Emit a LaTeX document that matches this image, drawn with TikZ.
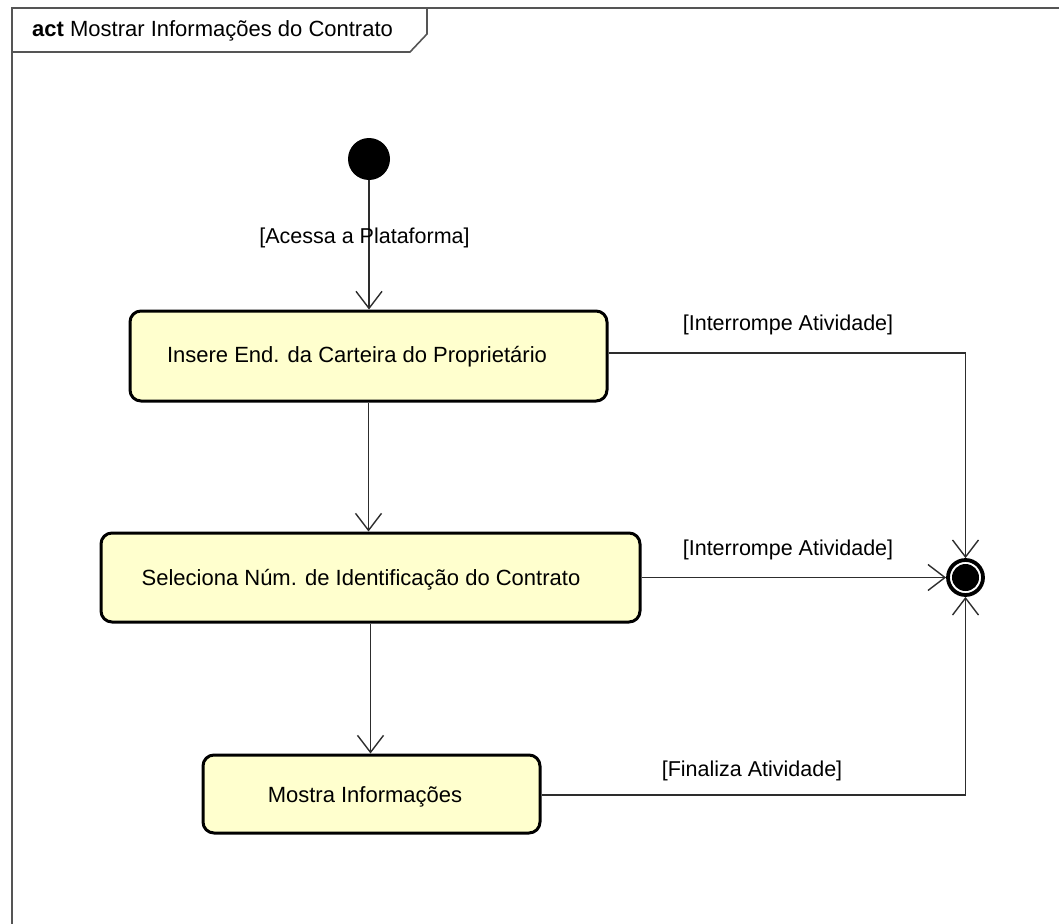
\documentclass[tikz,border=0pt]{standalone}
\usepackage{fontspec}
\setmainfont{Liberation Sans}
\usetikzlibrary{arrows.meta}
\definecolor{actfill}{RGB}{255,255,206}
\definecolor{umlline}{RGB}{45,45,45}
\definecolor{framegray}{RGB}{85,85,85}
\tikzset{
  umlfont/.style={font=\fontsize{22}{26}\selectfont},
  actbox/.style={draw=black,fill=actfill,line width=3pt,rounded corners=11pt,inner sep=0pt},
  acttext/.style={umlfont,inner sep=0pt},
  guard/.style={font=\fontsize{21.5}{25}\selectfont,inner sep=0pt},
  flow/.style={draw=umlline,line width=1.4pt,
    -{Straight Barb[length=17pt,width=26pt,line width=1.4pt]}},
  startnode/.style={circle,fill=black,minimum size=42pt,inner sep=0pt},
  endnode/.style={circle,draw=black,line width=3.8pt,fill=white,minimum size=35pt,inner sep=0pt,
    path picture={\fill[black] (path picture bounding box.center) circle (13.5pt);}},
}

\begin{document}
\begin{tikzpicture}[x=1pt,y=-1pt]
  \useasboundingbox (0,0) rectangle (1059,923);
  % frame and header
  \draw[framegray,line width=2pt] (12,940) -- (12,8) -- (1075,8);
  \draw[framegray,line width=1.6pt] (12,8) -- (427,8) -- (427,34) -- (410,52) -- (12,52);
  \node[umlfont,anchor=west,inner sep=0pt] (title) at (32,31) {\textbf{act} Mostrar Informações do Contrato};
  % initial and final
  \node[startnode] (start) at (369,159) {};
  \node[endnode] (fin) at (965.5,577.5) {};
  % activities
  \node[actbox,minimum width=477pt,minimum height=90pt] (ins) at (368.5,356) {};
  \node[acttext] (insT) at (357,357) {Insere End. da Carteira do Proprietário};
  \node[actbox,minimum width=539pt,minimum height=89pt] (sel) at (370.5,577.5) {};
  \node[acttext] (selT) at (361,580) {Seleciona Núm. de Identificação do Contrato};
  \node[actbox,minimum width=337pt,minimum height=78pt] (show) at (371.5,794) {};
  \node[acttext] (showT) at (365,797) {Mostra Informações};
  % flows
  \draw[flow] (start) -- (start |- ins.north);
  \node[guard] (g0) at (364.5,238) {[Acessa a Plataforma]};
  \draw[flow] (ins.south) -- (ins.south |- sel.north);
  \draw[flow] (sel.south) -- (sel.south |- show.north);
  \draw[flow] (ins.east |- 0,353) -| (fin.north);
  \node[guard] (g1) at (788,325) {[Interrompe Atividade]};
  \draw[flow] (sel.east) -- (fin.west);
  \node[guard] (g2) at (788,550) {[Interrompe Atividade]};
  \draw[flow] (show.east |- 0,795) -| (fin.south);
  \node[guard] (g3) at (752,771) {[Finaliza Atividade]};
\end{tikzpicture}
\end{document}
